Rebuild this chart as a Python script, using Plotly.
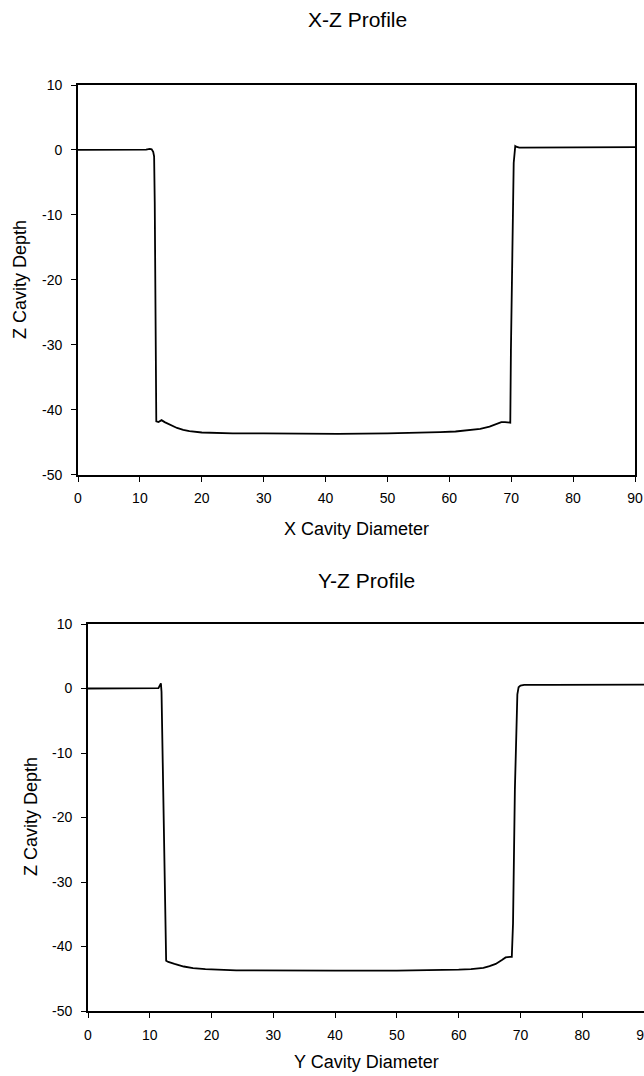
import plotly.graph_objects as go

# ---- data ----
xz_x = [0, 5, 10, 11.0, 11.6, 11.9, 12.15, 12.3, 12.4, 12.55, 12.65, 13.0, 13.5, 14.0,
        15.0, 16.0, 17.0, 18.0, 20.0, 22.0, 25.0, 30.0, 35.0, 38.0, 42.0, 50.0, 55.0,
        58.5, 61.0, 63.0, 65.0, 66.5, 67.5, 68.4, 69.0, 69.85, 69.95, 70.2, 70.4,
        70.65, 70.8, 71.3, 75, 80, 85, 90]
xz_z = [0.0, 0.0, 0.0, 0.05, 0.15, 0.1, -0.3, -1.0, -8.0, -25.0, -41.8, -41.9, -41.6, -41.9,
        -42.4, -42.8, -43.1, -43.3, -43.5, -43.6, -43.65, -43.65, -43.7, -43.75, -43.7,
        -43.65, -43.6, -43.45, -43.35, -43.2, -42.95, -42.6, -42.2, -41.9, -41.9, -42.0,
        -31.0, -17.0, -2.0, 0.6, 0.5, 0.35, 0.35, 0.35, 0.4, 0.45]

yz_x = [0, 5, 10, 11.4, 11.8, 11.9, 12.65, 13.0, 14.0, 15.5, 17.0, 19.0, 24.0, 30,
        40, 50, 55, 60, 62, 64, 65, 66, 67, 67.6, 68.3, 68.6, 68.8, 68.9, 69.1, 69.5,
        69.7, 70.0, 70.6, 75, 80, 85, 90]
yz_z = [0.0, 0.0, 0.0, 0.05, 0.8, -0.5, -42.2, -42.4, -42.7, -43.1, -43.35, -43.5, -43.7,
        -43.75, -43.75, -43.75, -43.7, -43.6, -43.5, -43.3, -43.05, -42.7, -42.1, -41.7,
        -41.6, -41.6, -36.4, -30.0, -15.7, -0.9, 0.2, 0.45, 0.55, 0.55, 0.55, 0.55, 0.6]

x_ticks = [0, 10, 20, 30, 40, 50, 60, 70, 80, 90]
y_ticks = [10, 0, -10, -20, -30, -40, -50]
x_tick_labels = [str(v) for v in x_ticks]
y_tick_labels = [str(v) for v in y_ticks]

titles = ["X-Z Profile", "Y-Z Profile"]
x_titles = ["X Cavity Diameter", "Y Cavity Diameter"]
y_title = "Z Cavity Depth"

W, H = 644, 1076
FONT = "Liberation Sans, Arial, sans-serif"

fig = go.Figure()
fig.add_trace(go.Scatter(x=xz_x, y=xz_z, mode="lines",
                         line=dict(color="black", width=1.8), xaxis="x", yaxis="y",
                         showlegend=False, hoverinfo="skip"))
fig.add_trace(go.Scatter(x=yz_x, y=yz_z, mode="lines",
                         line=dict(color="black", width=1.8), xaxis="x2", yaxis="y2",
                         showlegend=False, hoverinfo="skip"))

def px_x(p):
    return p / W

def px_y(p):
    return 1 - p / H

axis_common = dict(showgrid=False, zeroline=False, showline=True, linecolor="black",
                   linewidth=1.8, mirror=True, ticks="outside", ticklen=5,
                   tickwidth=1.2, tickcolor="black", automargin=False,
                   ticklabeloverflow="allow",
                   tickfont=dict(family=FONT, size=14, color="black"))

fig.update_layout(
    width=W, height=H,
    autosize=False,
    margin=dict(l=0, r=0, t=0, b=0, pad=0, autoexpand=False),
    paper_bgcolor="white", plot_bgcolor="white",
    font=dict(family=FONT, color="black"),
    xaxis=dict(domain=[px_x(78), px_x(635)], range=[0, 90], tickvals=x_ticks,
               ticktext=x_tick_labels, anchor="y", ticklabelstandoff=5, **axis_common),
    yaxis=dict(domain=[px_y(474.7), px_y(85)], range=[-50, 10], tickvals=y_ticks,
               ticktext=y_tick_labels, anchor="x", ticklabelstandoff=6, **axis_common),
    xaxis2=dict(domain=[px_x(88), 1.0], range=[0, 90], tickvals=x_ticks,
                ticktext=x_tick_labels, anchor="y2", ticklabelstandoff=5, **axis_common),
    yaxis2=dict(domain=[px_y(1011), px_y(624)], range=[-50, 10], tickvals=y_ticks,
                ticktext=y_tick_labels, anchor="x2", ticklabelstandoff=6, **axis_common),
)

ann = []
# plot titles
ann.append(dict(text=titles[0], x=px_x(357), y=px_y(20), xref="paper", yref="paper",
                showarrow=False, xanchor="center", yanchor="middle",
                font=dict(family=FONT, size=21, color="black")))
ann.append(dict(text=titles[1], x=px_x(366), y=px_y(580), xref="paper", yref="paper",
                showarrow=False, xanchor="center", yanchor="middle",
                font=dict(family=FONT, size=21, color="black")))
# x axis titles
ann.append(dict(text=x_titles[0], x=px_x(356), y=px_y(529), xref="paper", yref="paper",
                showarrow=False, xanchor="center", yanchor="middle",
                font=dict(family=FONT, size=18, color="black")))
ann.append(dict(text=x_titles[1], x=px_x(366), y=px_y(1062), xref="paper", yref="paper",
                showarrow=False, xanchor="center", yanchor="middle",
                font=dict(family=FONT, size=18, color="black")))
# y axis titles
ann.append(dict(text=y_title, x=px_x(20), y=px_y(280), xref="paper", yref="paper",
                showarrow=False, xanchor="center", yanchor="middle", textangle=-90,
                font=dict(family=FONT, size=18, color="black")))
ann.append(dict(text=y_title, x=px_x(31), y=px_y(817), xref="paper", yref="paper",
                showarrow=False, xanchor="center", yanchor="middle", textangle=-90,
                font=dict(family=FONT, size=18, color="black")))
fig.update_layout(annotations=ann)

fig.write_html(
    "out.html",
    config={"displayModeBar": False, "responsive": False},
    post_script="document.body.style.margin='0';"
                "document.documentElement.style.overflow='hidden';"
                "document.body.style.overflow='hidden';",
)
